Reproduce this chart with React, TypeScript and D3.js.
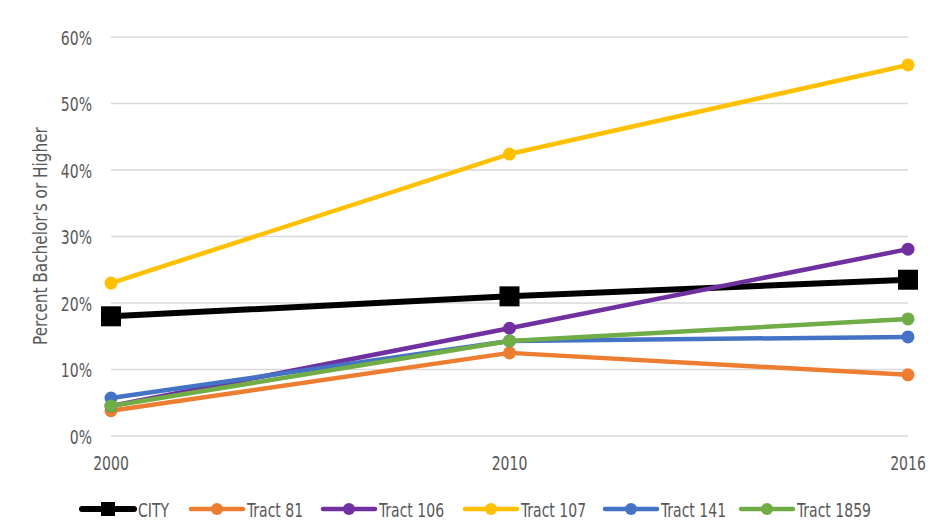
import React from "react";
import * as d3 from "d3";

const years = ["2000", "2010", "2016"];
const seriesNames = ["CITY", "Tract 81", "Tract 106", "Tract 107", "Tract 141", "Tract 1859"];
const cityValues = [0.18, 0.21, 0.235];
const tract81Values = [0.038, 0.125, 0.092];
const tract106Values = [0.045, 0.162, 0.281];
const tract107Values = [0.23, 0.424, 0.558];
const tract141Values = [0.057, 0.143, 0.149];
const tract1859Values = [0.045, 0.143, 0.176];
const yTicks = [0, 0.1, 0.2, 0.3, 0.4, 0.5, 0.6];

const colors = ["#000000", "#ED7D31", "#7030A0", "#FFC000", "#4472C4", "#70AD47"];
const allValues = [cityValues, tract81Values, tract106Values, tract107Values, tract141Values, tract1859Values];

const FONT = "'DejaVu Sans Condensed', sans-serif";
const TEXT = "#595959";

// narrow text: the original uses a very condensed face, so squeeze horizontally
const NarrowText: React.FC<{
  x: number;
  y: number;
  anchor?: "start" | "middle" | "end";
  size?: number;
  sx?: number;
  rotate?: number;
  children: React.ReactNode;
}> = ({ x, y, anchor = "start", size = 20, sx = 0.78, rotate = 0, children }) => (
  <g transform={`translate(${x},${y}) rotate(${rotate}) scale(${sx},1)`}>
    <text x={0} y={0} textAnchor={anchor} fontSize={size} fill={TEXT}>
      {children}
    </text>
  </g>
);

const App: React.FC = () => {
  const width = 930;
  const height = 524;
  const x = d3.scalePoint<string>().domain(years).range([111, 908]);
  const y = d3.scaleLinear().domain([0, 0.6]).range([436, 37]);
  const line = d3
    .line<number>()
    .x((_, i) => x(years[i])!)
    .y((d) => y(d));

  // legend layout: x start of each swatch
  const legendX = [82, 191, 323, 465, 605, 741];
  const legendY = 509;

  return (
    <svg
      width={width}
      height={height}
      style={{ position: "absolute", left: 0, top: 0, background: "#fff" }}
      fontFamily={FONT}
    >
      {/* grid */}
      {yTicks.map((t) => (
        <g key={t}>
          <line x1={111} x2={908} y1={y(t)} y2={y(t)} stroke="#d9d9d9" strokeWidth={1.3} />
          <NarrowText x={92} y={y(t) + 7.5} anchor="end">
            {d3.format(".0%")(t)}
          </NarrowText>
        </g>
      ))}
      {years.map((yr) => (
        <NarrowText key={yr} x={x(yr)!} y={470} anchor="middle">
          {yr}
        </NarrowText>
      ))}
      <NarrowText x={47} y={236} anchor="middle" rotate={-90} sx={0.85}>
        Percent Bachelor's or Higher
      </NarrowText>

      {/* series */}
      {allValues.map((vals, si) => (
        <g key={seriesNames[si]}>
          <path
            d={line(vals)!}
            fill="none"
            stroke={colors[si]}
            strokeWidth={si === 0 ? 6 : 4.5}
            strokeLinejoin="round"
            strokeLinecap="round"
          />
          {vals.map((v, i) =>
            si === 0 ? (
              <rect
                key={i}
                x={x(years[i])! - 10}
                y={y(v) - 10}
                width={20}
                height={20}
                fill={colors[si]}
              />
            ) : (
              <circle key={i} cx={x(years[i])} cy={y(v)} r={6.5} fill={colors[si]} />
            )
          )}
        </g>
      ))}

      {/* legend */}
      {seriesNames.map((name, si) => (
        <g key={name} transform={`translate(${legendX[si]},${legendY})`}>
          <line
            x1={0}
            x2={52}
            y1={0}
            y2={0}
            stroke={colors[si]}
            strokeWidth={si === 0 ? 6 : 4.5}
            strokeLinecap="round"
          />
          {si === 0 ? (
            <rect x={19} y={-7} width={14} height={14} fill={colors[si]} />
          ) : (
            <circle cx={26} cy={0} r={6} fill={colors[si]} />
          )}
          <NarrowText x={56} y={8}>
            {name}
          </NarrowText>
        </g>
      ))}
    </svg>
  );
};

export default App;
